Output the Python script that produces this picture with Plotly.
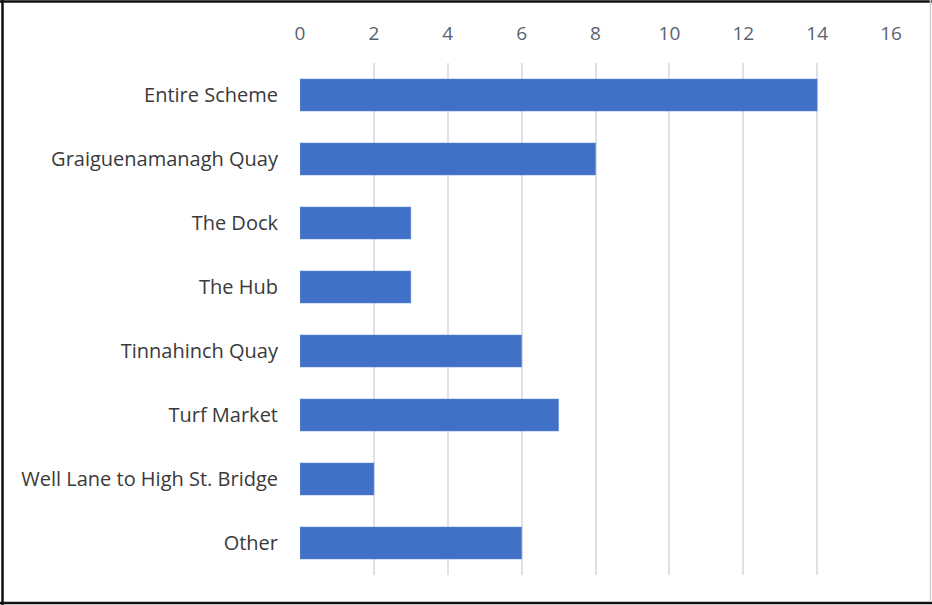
import plotly.graph_objects as go

categories = ["Entire Scheme", "Graiguenamanagh Quay", "The Dock", "The Hub",
              "Tinnahinch Quay", "Turf Market", "Well Lane to High St. Bridge", "Other"]
values = [14, 8, 3, 3, 6, 7, 2, 6]
x_ticks = [0, 2, 4, 6, 8, 10, 12, 14, 16]

W, H = 932, 605
ml, mr, mt, mb = 300, 41, 63, 30

fig = go.Figure(go.Bar(
    x=values, y=categories, orientation="h",
    marker=dict(color="#4171C6", line=dict(color="#5B85D0", width=0.5)),
))

fig.update_layout(
    width=W, height=H,
    margin=dict(l=ml, r=mr, t=mt, b=mb, pad=0),
    paper_bgcolor="white", plot_bgcolor="white",
    bargap=0.5, showlegend=False,
    font=dict(family="Open Sans", size=20, color="#3A3A3A"),
)
fig.update_xaxes(
    side="top", range=[0, 16], tickvals=x_ticks,
    showgrid=True, gridcolor="#DDE1E8", gridwidth=1.5,
    zeroline=False, showline=False,
    tickfont=dict(size=19, color="#5A6272"),
    ticks="outside", ticklen=14, tickcolor="rgba(0,0,0,0)",
)
fig.update_yaxes(
    autorange="reversed", showgrid=False, showline=False,
    ticks="outside", ticklen=17, tickcolor="rgba(0,0,0,0)",
    tickfont=dict(size=20, color="#3A3A3A"),
)

pw = W - ml - mr
ph = H - mt - mb
def px(x): return (x - ml) / pw
def py(y): return 1 - (y - mt) / ph

border = dict(type="line", xref="paper", yref="paper")
fig.add_shape(**border, x0=px(0), x1=px(932), y0=py(1.5), y1=py(1.5), line=dict(color="#111111", width=2.5))
fig.add_shape(**border, x0=px(0), x1=px(932), y0=py(603), y1=py(603), line=dict(color="#111111", width=2.5))
fig.add_shape(**border, x0=px(2.5), x1=px(2.5), y0=py(0), y1=py(605), line=dict(color="#111111", width=2.5))
fig.add_shape(**border, x0=px(930.5), x1=px(930.5), y0=py(0), y1=py(602), line=dict(color="#D0D0D0", width=1.5))

fig.write_html("out.html", config={"displayModeBar": False},
               post_script="document.body.style.margin='0';document.body.style.overflow='hidden';")
